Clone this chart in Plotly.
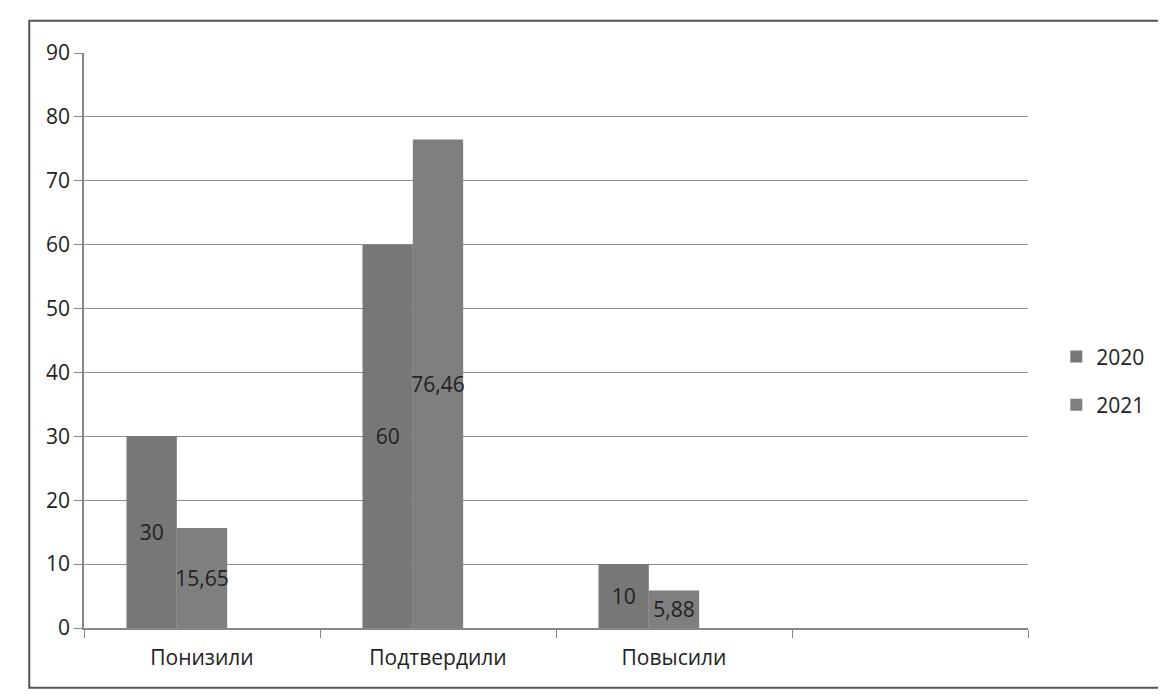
import plotly.graph_objects as go

categories = ["Понизили", "Подтвердили", "Повысили", " "]
values_2020 = [30, 60, 10, None]
values_2021 = [15.65, 76.46, 5.88, None]
values_blank = [None, None, None, None]
labels_2020 = ["30", "60", "10", ""]
labels_2021 = ["15,65", "76,46", "5,88", ""]
y_ticks = [0, 10, 20, 30, 40, 50, 60, 70, 80, 90]

font = "Open Sans, Liberation Sans, sans-serif"
txt = "#222222"

fig = go.Figure()
fig.add_trace(go.Bar(
    name="2020", x=categories, y=values_2020, text=labels_2020,
    textposition="inside", insidetextanchor="middle", textangle=0,
    textfont=dict(color=txt, size=21, family=font),
    marker=dict(color="#777777", line=dict(width=0)),
    legendgroup="a",
))
fig.add_trace(go.Bar(
    name="2021", x=categories, y=values_2021, text=labels_2021,
    textposition="inside", insidetextanchor="middle", textangle=0,
    textfont=dict(color=txt, size=21, family=font),
    marker=dict(color="#7f7f7f", line=dict(width=0)),
    legendgroup="b",
))
fig.add_trace(go.Bar(
    name="", x=categories, y=values_blank, showlegend=False,
    marker=dict(color="#7f7f7f"),
))

fig.update_layout(
    width=1166, height=700,
    margin=dict(l=76, r=146, t=45, b=80, autoexpand=False),
    paper_bgcolor="white", plot_bgcolor="white",
    barmode="group", bargap=0.36, bargroupgap=0,
    font=dict(family=font, size=21, color=txt),
    legend=dict(x=1.03, y=0.43, yanchor="middle", xanchor="left",
                font=dict(size=21), tracegroupgap=18, itemsizing="constant"),
    uniformtext=dict(minsize=21, mode="show"),
    shapes=[dict(type="rect", xref="paper", yref="paper",
                 x0=-0.058, x1=1.2, y0=-0.104, y1=1.056,
                 line=dict(color="#555", width=2))],
)
fig.update_xaxes(
    type="category", categoryorder="array", categoryarray=categories,
    showline=True, linecolor="#888", linewidth=1.5,
    ticks="outside", tickson="boundaries", ticklen=8, tickcolor="#888",
    ticklabelstandoff=10,
    showgrid=False, tickfont=dict(size=21, color=txt),
)
fig.update_yaxes(
    range=[0, 90], tickvals=y_ticks,
    showline=True, linecolor="#888", linewidth=1.5,
    ticks="outside", ticklen=8, tickcolor="#888",
    gridcolor="#8f8f8f", gridwidth=1.3,
    tickfont=dict(size=21, color=txt),
)

fig.write_html("out.html")
